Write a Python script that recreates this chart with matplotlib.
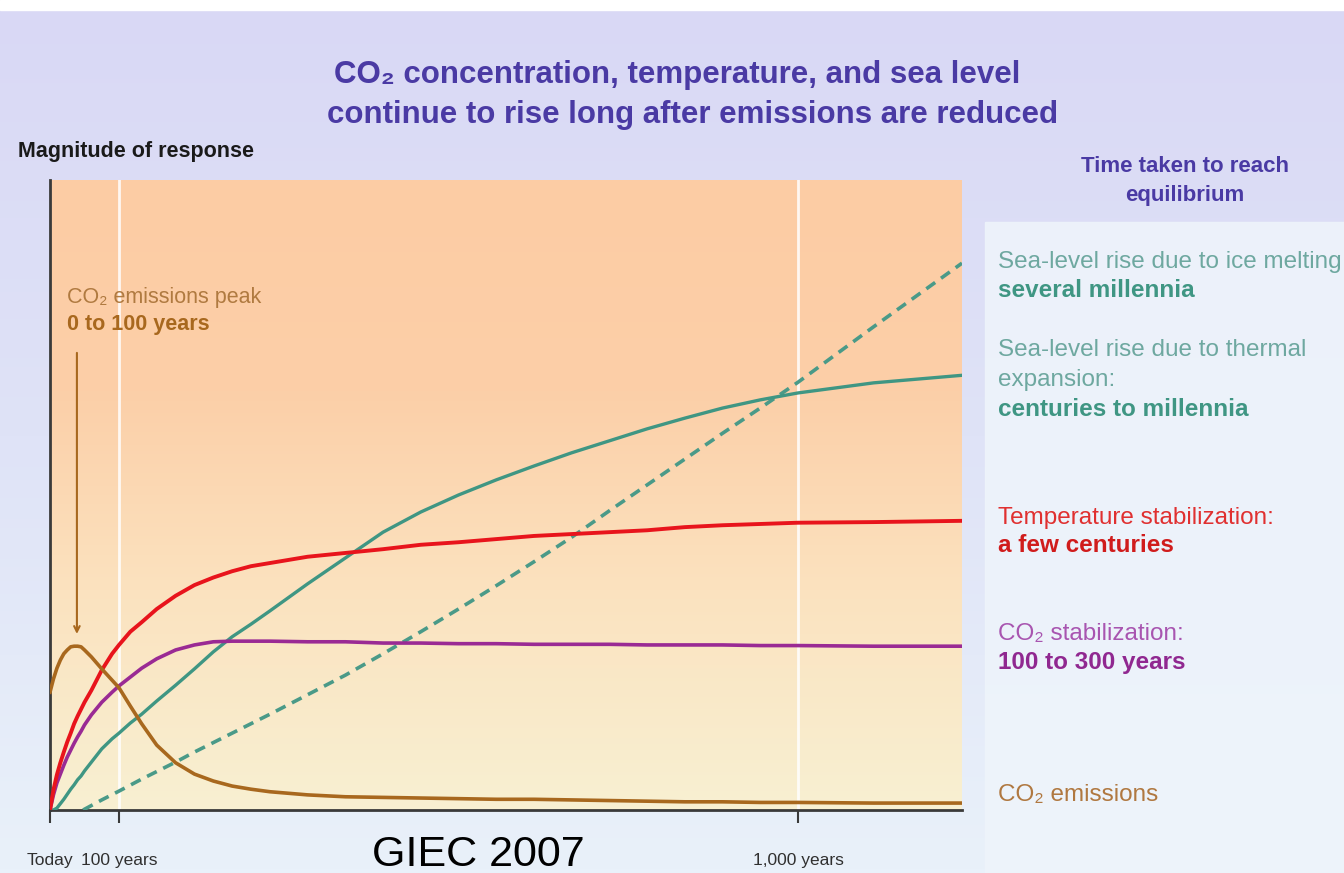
import numpy as np
import matplotlib.pyplot as plt
from matplotlib.colors import LinearSegmentedColormap

# temps (années) et réponses (unités arbitraires 0-100)
annees = [0, 5, 10, 15, 20, 25, 30, 35, 40, 45, 50, 60, 75, 90, 100, 115, 130,
          150, 175, 200, 225, 250, 275, 300, 350, 400, 450, 500, 550, 600, 650,
          700, 750, 800, 850, 900, 950, 1000, 1100, 1217]
emissions = [18.7, 20.8, 22.5, 23.8, 24.8, 25.4, 25.9, 26.0, 26.0, 25.9, 25.4,
             24.3, 22.4, 20.6, 19.4, 16.5, 13.7, 10.3, 7.5, 5.7, 4.6, 3.8, 3.3,
             2.9, 2.4, 2.1, 2.0, 1.9, 1.8, 1.7, 1.7, 1.6, 1.5, 1.4, 1.3, 1.3,
             1.2, 1.2, 1.1, 1.1]
temperature = [0.0, 3.2, 5.6, 7.5, 9.2, 10.8, 12.2, 13.7, 14.9, 16.0, 17.1,
               19.0, 22.2, 24.8, 26.2, 28.3, 29.8, 31.9, 34.0, 35.7, 36.9, 37.9,
               38.7, 39.2, 40.2, 40.8, 41.4, 42.1, 42.5, 43.0, 43.5, 43.8, 44.1,
               44.4, 44.9, 45.2, 45.4, 45.6, 45.7, 45.9]
co2_stab = [0.0, 2.4, 4.3, 5.7, 7.1, 8.4, 9.5, 10.6, 11.6, 12.5, 13.5, 15.1,
            17.1, 18.7, 19.7, 21.1, 22.5, 24.0, 25.4, 26.2, 26.7, 26.8, 26.8,
            26.8, 26.7, 26.7, 26.5, 26.5, 26.4, 26.4, 26.3, 26.3, 26.3, 26.2,
            26.2, 26.2, 26.1, 26.1, 26.0, 26.0]
dilatation = [0.0, 0.0, 0.3, 1.0, 1.7, 2.5, 3.3, 4.0, 4.8, 5.4, 6.2, 7.6, 9.7,
              11.3, 12.2, 13.8, 15.2, 17.3, 19.8, 22.4, 25.1, 27.5, 29.5, 31.6,
              35.9, 40.0, 44.1, 47.3, 50.0, 52.4, 54.6, 56.7, 58.6, 60.5, 62.2,
              63.8, 65.1, 66.2, 67.8, 69.0]
annees_glace = [48, 75, 100, 130, 175, 200, 250, 300, 350, 400, 450, 500, 550,
                600, 650, 700, 750, 800, 850, 900, 950, 1000, 1100, 1217]
fonte_glace = [0.0, 1.6, 3.0, 4.9, 7.6, 9.2, 12.2, 15.2, 18.3, 21.4, 24.8,
               28.3, 31.9, 35.6, 39.4, 43.3, 47.5, 51.6, 55.7, 59.8, 63.8, 67.9,
               76.7, 86.8]

ticks = [0, 100, 1000]
tick_labels = ['Today', '100 years', '1,000 years']

W, H = 1344, 873
fig = plt.figure(figsize=(W / 100, H / 100), dpi=100)

# fond lavande -> bleu pale
bg = fig.add_axes([0, 0, 1, 1])
cm_bg = LinearSegmentedColormap.from_list('bg', ['#d9d8f5', '#dfe3f7', '#e9f1fa'])
bg.imshow(np.linspace(0, 1, 200).reshape(-1, 1), aspect='auto', cmap=cm_bg,
          extent=[0, 1, 0, 1])
bg.add_patch(plt.Rectangle((0, 0.988), 1, 0.012, color='white'))
bg.add_patch(plt.Rectangle((985 / W, 0), 1 - 985 / W, 1 - 222 / H,
                           color='#eef4fb', alpha=0.9))
bg.set_xlim(0, 1)
bg.set_ylim(0, 1)
bg.axis('off')

def fwd(x):
    return np.interp(x, [0, 100, 1000, 1217], [0, 69, 748, 912])

def inv(x):
    return np.interp(x, [0, 69, 748, 912], [0, 100, 1000, 1217])

ax = fig.add_axes([50 / W, 1 - 810 / H, 912 / W, 630 / H])
ax.set_xscale('function', functions=(fwd, inv))
ax.set_xlim(0, 1217)
ax.set_ylim(0, 100)

cm_plot = LinearSegmentedColormap.from_list('pl', ['#f8f0d2', '#fbe3c0', '#fccfa8', '#fccca4'])
ax.imshow(np.linspace(0, 1, 200).reshape(-1, 1), aspect='auto', cmap=cm_plot,
          origin='lower', extent=[0, 1, 0, 1], transform=ax.transAxes, zorder=0)

for t in [100, 1000]:
    ax.axvline(t, color='white', lw=2, alpha=0.85, zorder=1)

ax.plot(annees_glace, fonte_glace, color='#4a9a88', lw=2.6, ls=(0, (3, 2)), zorder=3)
ax.plot(annees, dilatation, color='#3f9683', lw=2.4, zorder=3)
ax.plot(annees, co2_stab, color='#9a2a94', lw=2.6, zorder=4)
ax.plot(annees, temperature, color='#e8141c', lw=2.8, zorder=4)
ax.plot(annees, emissions, color='#a8681e', lw=2.6, zorder=5)

sans = ['Liberation Sans', 'DejaVu Sans']

ax.annotate('', xy=(39, 27.5), xytext=(39, 73),
            arrowprops=dict(arrowstyle='->', color='#a8681e', lw=1.5))
ax.text(25, 81.4, 'CO₂ emissions peak', color='#b07a40', fontsize=15.5,
        va='center', family=sans)
ax.text(25, 77.0, '0 to 100 years', color='#a8681e', fontsize=15.5, fontweight='bold',
        va='center', family=sans)

for s in ['top', 'right']:
    ax.spines[s].set_visible(False)
for s in ['left', 'bottom']:
    ax.spines[s].set_color('#3a3a3a')
    ax.spines[s].set_linewidth(2)
ax.set_yticks([])
ax.set_xticks(ticks)
ax.set_xticklabels(tick_labels, family=sans)
ax.tick_params(axis='x', length=9, width=1.5, color='#3a3a3a', labelsize=12.5,
               labelcolor='#303030', pad=22)
ax.xaxis.set_minor_locator(plt.NullLocator())

def fx(x):
    return x / W

def fy(y):
    return 1 - y / H

fig.text(fx(677), fy(75), 'CO₂ concentration, temperature, and sea level',
         ha='center', va='center', fontsize=22.5, fontweight='bold', color='#4a3aa4', family=sans)
fig.text(fx(693), fy(115), 'continue to rise long after emissions are reduced',
         ha='center', va='center', fontsize=22.5, fontweight='bold', color='#4a3aa4', family=sans)
fig.text(fx(18), fy(152), 'Magnitude of response', ha='left', va='center',
         fontsize=15.5, fontweight='bold', color='#1a1a1a', family=sans)
fig.text(fx(1185), fy(167), 'Time taken to reach', ha='center', va='center',
         fontsize=16, fontweight='bold', color='#4a3aa4', family=sans)
fig.text(fx(1185), fy(196), 'equilibrium', ha='center', va='center',
         fontsize=16, fontweight='bold', color='#4a3aa4', family=sans)

labels = [
    (262, 'Sea-level rise due to ice melting', '#6ea8a0', 'normal'),
    (291, 'several millennia', '#3f9683', 'bold'),
    (350, 'Sea-level rise due to thermal', '#6ea8a0', 'normal'),
    (380, 'expansion:', '#6ea8a0', 'normal'),
    (410, 'centuries to millennia', '#3f9683', 'bold'),
    (518, 'Temperature stabilization:', '#e03030', 'normal'),
    (546, 'a few centuries', '#d01c1c', 'bold'),
    (634, 'CO₂ stabilization:', '#a855b0', 'normal'),
    (662, '100 to 300 years', '#902890', 'bold'),
    (795, 'CO₂ emissions', '#b07840', 'normal'),
]
for y, txt, col, w in labels:
    fig.text(fx(998), fy(y), txt, ha='left', va='center', fontsize=17.5,
             color=col, fontweight=w, family=sans)

fig.text(fx(478), fy(855), 'GIEC 2007', ha='center', va='center', fontsize=31,
         color='black', family=sans)

fig.savefig('out.png', dpi=100)
